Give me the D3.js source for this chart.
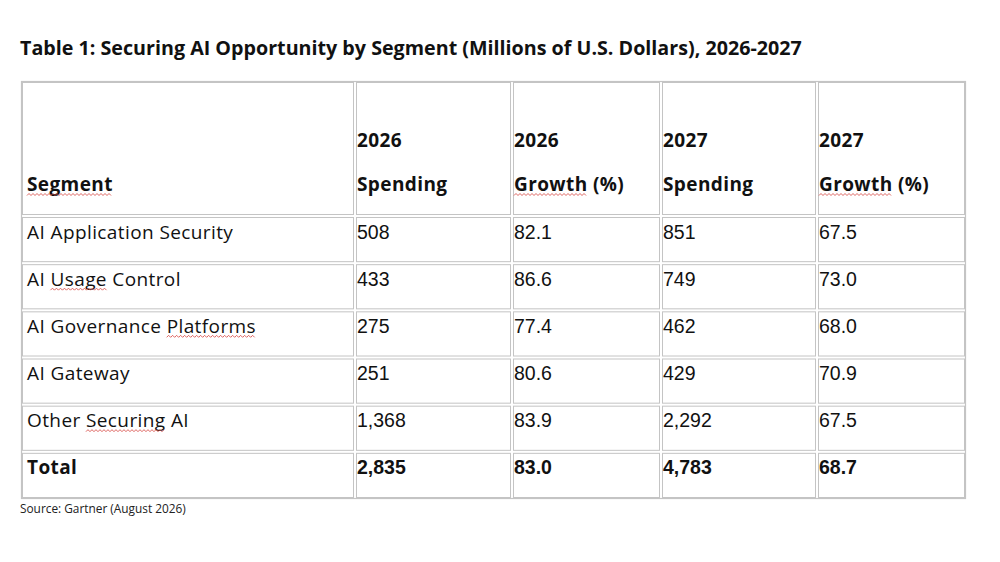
<!DOCTYPE html>
<html>
<head>
<meta charset="utf-8">
<script src="https://cdn.jsdelivr.net/npm/d3@7"></script>
<style>
  html, body { margin: 0; padding: 0; background: #fff; }
</style>
</head>
<body>
<div id="chart"></div>
<script>
// ----------------------------
// DATA
// ----------------------------
const title = "Table 1: Securing AI Opportunity by Segment (Millions of U.S. Dollars), 2026-2027";
const source = "Source: Gartner (August 2026)";
const headerTop = ["", "2026", "2026", "2027", "2027"];
const headerBottom = ["Segment", "Spending", "Growth (%)", "Spending", "Growth (%)"];
const segments = ["AI Application Security", "AI Usage Control", "AI Governance Platforms", "AI Gateway", "Other Securing AI", "Total"];
const spending2026 = [508, 433, 275, 251, 1368, 2835];
const growth2026 = [82.1, 86.6, 77.4, 80.6, 83.9, 83.0];
const spending2027 = [851, 749, 462, 429, 2292, 4783];
const growth2027 = [67.5, 73.0, 68.0, 70.9, 67.5, 68.7];
// words that carry the red spell-check squiggle in the source
const flaggedWords = ["Segment", "Growth", "Usage", "Platforms", "Securing"];

// ----------------------------
// LAYOUT
// ----------------------------
const W = 1000, H = 562;
const colEdges = [21, 355, 512, 661, 817, 966];
const tableTop = 81, headerBottomY = 216, tableBottom = 499;
const labelFont = "'Open Sans', 'Noto Sans', sans-serif";
const numFont = "'Liberation Sans', Arial, sans-serif";
const border = "#c4c4c4";

const fmtSpend = d3.format(",");
const fmtGrowth = d3.format(".1f");

const y = d3.scaleBand()
    .domain(d3.range(segments.length))
    .range([headerBottomY, tableBottom]);

const svg = d3.select("#chart")
    .append("svg")
    .attr("width", W)
    .attr("height", H);

// shrink/grow a text's font size so it spans the width seen in the reference
function fitWidth(sel, target) {
    const w = sel.node().getComputedTextLength();
    const fs = parseFloat(sel.style("font-size"));
    sel.style("font-size", (fs * target / w) + "px");
}

// title
const titleText = svg.append("text")
    .attr("x", 20)
    .attr("y", 55)
    .style("font-family", labelFont)
    .style("font-weight", 700)
    .style("font-size", "17.5px")
    .attr("fill", "#111")
    .text(title);
fitWidth(titleText, 782);

// outer frame
svg.append("rect")
    .attr("x", colEdges[0] + 0.5)
    .attr("y", tableTop + 0.5)
    .attr("width", colEdges[colEdges.length - 1] - colEdges[0] - 1)
    .attr("height", tableBottom - tableTop - 1)
    .attr("fill", "none")
    .attr("stroke", border)
    .attr("stroke-width", 1.2);

// rows: header + body
const rowBounds = [[tableTop, headerBottomY]].concat(
    d3.range(segments.length).map(i => [y(i), y(i) + y.bandwidth()])
);

// cell rectangles (Word-style spaced cell borders)
rowBounds.forEach(([r0, r1]) => {
    d3.range(colEdges.length - 1).forEach(c => {
        svg.append("rect")
            .attr("x", colEdges[c] + 1.5)
            .attr("y", r0 + 1.5)
            .attr("width", colEdges[c + 1] - colEdges[c] - 3)
            .attr("height", r1 - r0 - 3)
            .attr("fill", "none")
            .attr("stroke", border)
            .attr("stroke-width", 1);
    });
});

const squiggles = [];

function addText(x, yy, str, opts) {
    const t = svg.append("text")
        .attr("x", x)
        .attr("y", yy)
        .style("font-family", opts.font)
        .style("font-weight", opts.bold ? 700 : 400)
        .style("font-size", opts.size + "px")
        .style("letter-spacing", (opts.spacing || 0) + "px")
        .attr("fill", "#111");
    const words = str.split(" ");
    words.forEach((w, i) => {
        const ts = t.append("tspan").text(w);
        if (flaggedWords.includes(w)) squiggles.push({ node: ts.node(), base: yy });
        if (i < words.length - 1) t.append("tspan").text(" ");
    });
    return t;
}

// header
headerTop.forEach((h, c) => {
    const x = c === 0 ? 27 : colEdges[c] + 2;
    const opts = { font: labelFont, bold: true, size: 19, spacing: 0.4 };
    if (h) addText(x, 147, h, opts);
    addText(x, 191, headerBottom[c], opts);
});

// body
segments.forEach((s, i) => {
    const isTotal = s === "Total";
    const base = y(i) + 22.5;
    addText(27, base, s, { font: labelFont, bold: isTotal, size: 19, spacing: 0.4 });
    const vals = [fmtSpend(spending2026[i]), fmtGrowth(growth2026[i]),
                  fmtSpend(spending2027[i]), fmtGrowth(growth2027[i])];
    vals.forEach((v, c) => {
        addText(colEdges[c + 1] + 2, base, v, { font: numFont, bold: isTotal, size: 19.5 });
    });
});

// red wavy spell-check underlines
squiggles.forEach(({ node, base }) => {
    const b = node.getBBox();
    const x0 = b.x, x1 = b.x + b.width;
    const yy = base + 3.5;
    const step = 2;
    const pts = d3.range(x0, x1, step).map((x, k) => [x, yy + (k % 2 ? -1 : 1)]);
    svg.append("path")
        .attr("d", d3.line()(pts))
        .attr("fill", "none")
        .attr("stroke", "#d9534f")
        .attr("stroke-width", 0.9);
});

// source
const sourceText = svg.append("text")
    .attr("x", 20)
    .attr("y", 513)
    .style("font-family", labelFont)
    .style("font-size", "10.5px")
    .attr("fill", "#222")
    .text(source);
fitWidth(sourceText, 166);
</script>
</body>
</html>
